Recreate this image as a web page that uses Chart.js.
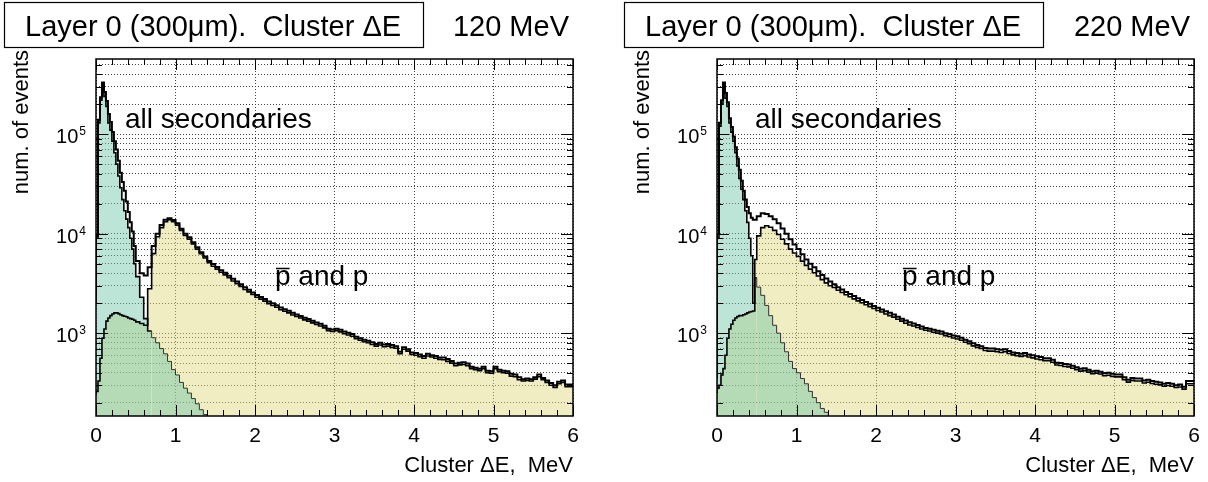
<!DOCTYPE html>
<html>
<head>
<meta charset="utf-8">
<script src="https://cdn.jsdelivr.net/npm/chart.js@4"></script>
<style>
  body { margin: 0; background: #fff; width: 1208px; height: 482px; overflow: hidden; position: relative; }
  .panel { position: absolute; top: 0; width: 604px; height: 482px; }
</style>
</head>
<body>
<div class="panel" style="left:0"><canvas id="c120" width="604" height="482"></canvas></div>
<div class="panel" style="left:604px"><canvas id="c220" width="604" height="482"></canvas></div>
<script>
// histogram binning: 0.025 MeV bins below 0.5 MeV, 0.05 MeV bins up to 6 MeV
const fineBins = 20, fineWidth = 0.025;
const coarseBins = 110, coarseWidth = 0.05;
const xMin = 0, xMax = 6;
const yMin = 147, yMax = 5.7e5;
const xTickLabels = ["0", "1", "2", "3", "4", "5", "6"];
const yTickExponents = [3, 4, 5];

// ---- 120 MeV ----
const allSec120 = [
  2300, 9500, 140000, 235000, 330000, 265000, 215000, 160000, 133000, 105000,
  85000, 70000, 54000, 41000, 33000, 27000, 21000, 16500, 13000, 10500,
  7500, 5300, 4000, 3800, 4600, 7500, 10000, 12200, 13800, 14300,
  13700, 12700, 11200, 10000, 9200, 8200, 7300, 6500, 5900, 5300,
  4950, 4620, 4300, 4050, 3780, 3520, 3310, 3100, 2890, 2730,
  2570, 2420, 2310, 2200, 2080, 2000, 1910, 1810, 1740, 1680,
  1600, 1540, 1490, 1430, 1390, 1330, 1280, 1240, 1190, 1110,
  1090, 1110, 1080, 1040, 1010, 980, 920, 890, 860, 840,
  810, 780, 800, 770, 780, 760, 740, 650, 720, 690,
  640, 630, 610, 590, 620, 600, 590, 570, 570, 550,
  525, 495, 505, 510, 495, 460, 450, 440, 460, 420,
  415, 460, 430, 420, 415, 390, 385, 360, 345, 350,
  345, 360, 385, 355, 335, 315, 300, 325, 335, 305
];
const pbarp120 = [
  240, 260, 330, 560, 890, 1100, 1320, 1420, 1500, 1560,
  1600, 1600, 1570, 1530, 1500, 1480, 1460, 1420, 1400, 1380,
  1350, 1300, 1250, 1200, 2800, 6300, 9300, 11500, 13200, 13800,
  13200, 12200, 10800, 9600, 8800, 7900, 7000, 6300, 5700, 5100,
  4700, 4400, 4100, 3850, 3600, 3350, 3150, 2950, 2750, 2600,
  2450, 2300, 2200, 2100, 1980, 1900, 1820, 1720, 1660, 1600,
  1520, 1470, 1420, 1360, 1320, 1270, 1220, 1180, 1130, 1060,
  1040, 1060, 1030, 990, 960, 930, 880, 850, 820, 800,
  770, 740, 760, 730, 740, 720, 705, 620, 690, 660,
  610, 600, 580, 560, 590, 575, 560, 545, 540, 520,
  500, 470, 480, 485, 470, 440, 430, 420, 440, 400,
  395, 440, 410, 400, 395, 370, 365, 340, 330, 335,
  330, 345, 365, 340, 320, 300, 285, 310, 320, 290
];
const lowE120 = [
  2000, 9000, 130000, 220000, 320000, 240000, 190000, 130000, 110000, 85000,
  65000, 50000, 38000, 29000, 22000, 17000, 14000, 11500, 9000, 7000,
  5000, 3700, 2300, 1400, 1050, 900, 800, 700, 620, 520,
  430, 380, 320, 280, 250, 220, 195, 170, 152, 140
];

// ---- 220 MeV ----
const allSec220 = [
  700, 10000, 130000, 220000, 330000, 260000, 210000, 145000, 118000, 95000,
  74000, 57000, 44000, 34000, 27000, 22000, 18500, 16000, 14500, 13800,
  13800, 15000, 16000, 15800, 15000, 14000, 12700, 11300, 10000, 8800,
  7800, 7000, 6200, 5500, 5000, 4600, 4200, 3850, 3550, 3300,
  3100, 2900, 2750, 2600, 2480, 2360, 2250, 2150, 2060, 1970,
  1880, 1800, 1730, 1660, 1600, 1540, 1460, 1400, 1340, 1290,
  1250, 1210, 1170, 1130, 1110, 1080, 1060, 1040, 1000, 980,
  950, 930, 900, 860, 830, 790, 760, 740, 710, 700,
  700, 690, 680, 690, 660, 640, 630, 620, 630, 610,
  600, 585, 575, 560, 560, 540, 505, 500, 490, 485,
  470, 455, 440, 445, 430, 415, 420, 410, 395, 400,
  390, 385, 385, 360, 340, 355, 350, 350, 335, 340,
  330, 325, 320, 310, 315, 310, 300, 305, 290, 330
];
const pbarp220 = [
  250, 280, 300, 380, 440, 600, 890, 1100, 1230, 1350,
  1420, 1470, 1500, 1500, 1530, 1560, 1600, 1630, 1650, 1670,
  5500, 9500, 11500, 12000, 11600, 10800, 9800, 8800, 7900, 7000,
  6400, 5900, 5300, 4800, 4400, 4050, 3750, 3450, 3200, 3000,
  2880, 2700, 2560, 2430, 2320, 2210, 2110, 2020, 1930, 1850,
  1770, 1690, 1630, 1560, 1500, 1450, 1380, 1320, 1260, 1210,
  1180, 1140, 1100, 1070, 1050, 1020, 1000, 980, 945, 925,
  895, 875, 850, 810, 785, 745, 720, 700, 670, 660,
  660, 650, 640, 650, 625, 605, 595, 585, 595, 575,
  565, 550, 540, 530, 530, 510, 478, 473, 463, 458,
  444, 430, 415, 420, 406, 392, 397, 388, 373, 378,
  368, 364, 364, 340, 322, 335, 330, 330, 316, 321,
  312, 307, 302, 293, 298, 293, 284, 288, 274, 310
];
const lowE220 = [
  350, 9000, 120000, 200000, 320000, 230000, 190000, 130000, 105000, 85000,
  65000, 48000, 36000, 28000, 22000, 17000, 13000, 9000, 6000, 2000,
  3600, 2900, 2400, 1900, 1500, 1200, 1000, 800, 650, 520,
  440, 400, 350, 310, 260, 225, 200, 175, 160, 140
];

const TEAL = "rgba(110,198,168,0.46)";
const YELLOW = "rgba(224,216,122,0.46)";
const FONT = '"Liberation Sans", Arial, sans-serif';

const binEdges = [];
for (let i = 0; i < fineBins; i++) binEdges.push(xMin + i * fineWidth);
for (let i = 0; i <= coarseBins; i++) binEdges.push(xMin + fineBins * fineWidth + i * coarseWidth);

// one point per bin low edge, plus a closing point at the last bin's high edge
function toSteps(values) {
  const pts = values.map((v, i) => ({ x: binEdges[i], y: v }));
  pts.push({ x: binEdges[values.length], y: values[values.length - 1] });
  return pts;
}

function logGrid(min, max) {
  const out = [];
  for (let e = Math.floor(Math.log10(min)); e <= Math.ceil(Math.log10(max)); e++) {
    for (let m = 1; m <= 9; m++) {
      const v = m * Math.pow(10, e);
      if (v >= min && v <= max) out.push(v);
    }
  }
  return out;
}

const decor = {
  id: "decor",
  afterDraw(chart, args, o) {
    const ctx = chart.ctx, a = chart.chartArea;
    const xs = chart.scales.x, ys = chart.scales.y;
    ctx.save();

    // frame
    ctx.strokeStyle = "#000";
    ctx.lineWidth = 1.5;
    ctx.strokeRect(a.left, a.top, a.right - a.left, a.bottom - a.top);

    // inward ticks on all four sides
    ctx.lineWidth = 1;
    ctx.beginPath();
    for (let i = 0; i <= 30; i++) {
      const px = Math.round(xs.getPixelForValue(i * 0.2)) + 0.5;
      const len = i % 5 === 0 ? 11 : 6;
      ctx.moveTo(px, a.bottom); ctx.lineTo(px, a.bottom - len);
      ctx.moveTo(px, a.top); ctx.lineTo(px, a.top + len);
    }
    for (const v of logGrid(yMin, yMax)) {
      const py = Math.round(ys.getPixelForValue(v)) + 0.5;
      const major = Math.abs(Math.log10(v) - Math.round(Math.log10(v))) < 1e-9;
      const len = major ? 12 : 6;
      ctx.moveTo(a.left, py); ctx.lineTo(a.left + len, py);
      ctx.moveTo(a.right, py); ctx.lineTo(a.right - len, py);
    }
    ctx.stroke();

    ctx.fillStyle = "#000";
    ctx.textBaseline = "alphabetic";

    // x tick labels
    ctx.font = "21px " + FONT;
    ctx.textAlign = "center";
    xTickLabels.forEach(t => ctx.fillText(t, xs.getPixelForValue(Number(t)), a.bottom + 26));

    // y tick labels 10^n
    for (const e of yTickExponents) {
      const py = ys.getPixelForValue(Math.pow(10, e));
      ctx.font = "12px " + FONT;
      const supW = ctx.measureText(String(e)).width;
      ctx.textAlign = "right";
      ctx.fillText(String(e), a.left - 10, py + 1);
      ctx.font = "20px " + FONT;
      ctx.fillText("10", a.left - 11 - supW, py + 9);
    }

    // axis titles
    ctx.font = "22px " + FONT;
    ctx.textAlign = "right";
    ctx.fillText("Cluster \u0394E,  MeV", a.right, a.bottom + 56);
    ctx.save();
    ctx.translate(o.yTitleX, 50);
    ctx.rotate(-Math.PI / 2);
    ctx.fillText("num. of events", 0, 0);
    ctx.restore();

    // title box and beam energy
    ctx.lineWidth = 1.2;
    ctx.strokeRect(o.boxX + 0.5, 2.5, 419, 45);
    ctx.font = "29px " + FONT;
    ctx.textAlign = "left";
    ctx.fillText("Layer 0 (300\u03bcm).  Cluster \u0394E", o.boxX + 21, 36);
    ctx.textAlign = "right";
    ctx.fillText(o.energy, a.right - 4, 36);

    // annotations
    ctx.font = "28px " + FONT;
    ctx.textAlign = "left";
    ctx.fillText("all secondaries", o.allX, 128);
    ctx.fillText("p and p", o.ppX, 285);
    const pW = ctx.measureText("p").width;
    ctx.lineWidth = 1.5;
    ctx.beginPath();
    ctx.moveTo(o.ppX + 1, 268.5); ctx.lineTo(o.ppX + pW - 1, 268.5);
    ctx.stroke();

    ctx.restore();
  }
};

function makeChart(id, p) {
  const line = { stepped: "after", pointRadius: 0, tension: 0 };
  new Chart(document.getElementById(id), {
    type: "line",
    data: {
      datasets: [
        { ...line, data: toSteps(p.total), borderColor: "#000", borderWidth: 2, fill: false, order: 0 },
        {
          ...line, data: toSteps(p.low), borderColor: "#000", borderWidth: 1.6,
          fill: "start", backgroundColor: TEAL, order: 1,
          // thin outline where the low-energy component runs under the p/pbar peak
          segment: {
            borderWidth: c => (c.p0DataIndex >= p.thinFrom ? 1 : 1.6),
            borderColor: c => (c.p0DataIndex >= p.thinFrom ? "#333" : "#000")
          }
        },
        { ...line, data: toSteps(p.pp), borderColor: "#000", borderWidth: 1.6, fill: "start", backgroundColor: YELLOW, order: 2 }
      ]
    },
    options: {
      responsive: false,
      animation: false,
      events: [],
      layout: { padding: { left: p.left, right: p.right, top: 59, bottom: 66 } },
      plugins: {
        legend: { display: false },
        tooltip: { enabled: false },
        filler: { drawTime: "beforeDatasetsDraw" },
        decor: p
      },
      scales: {
        x: {
          type: "linear", min: xMin, max: xMax,
          ticks: { display: false, stepSize: 1 },
          grid: { color: "#444", lineWidth: 1, drawTicks: false },
          border: { display: false, dash: [1, 2] },
          afterFit: s => { s.height = 0; }
        },
        y: {
          type: "logarithmic", min: yMin, max: yMax,
          ticks: { display: false },
          grid: { color: "#444", lineWidth: 1, drawTicks: false },
          border: { display: false, dash: [1, 2] },
          afterBuildTicks: s => { s.ticks = logGrid(yMin, yMax).map(v => ({ value: v })); },
          afterFit: s => { s.width = 0; }
        }
      }
    },
    plugins: [decor]
  });
}

makeChart("c120", {
  total: allSec120, pp: pbarp120, low: lowE120, thinFrom: 24,
  energy: "120 MeV", left: 96, right: 31, boxX: 4, yTitleX: 28, allX: 125, ppX: 275
});
makeChart("c220", {
  total: allSec220, pp: pbarp220, low: lowE220, thinFrom: 20,
  energy: "220 MeV", left: 113, right: 14, boxX: 20, yTitleX: 45, allX: 151, ppX: 298
});
</script>
</body>
</html>
